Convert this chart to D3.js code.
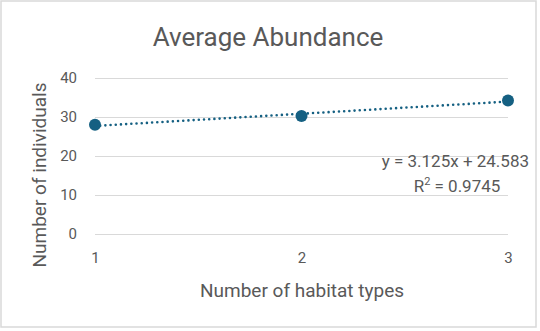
<!DOCTYPE html>
<html><head><meta charset="utf-8">
<script src="https://cdn.jsdelivr.net/npm/d3@7"></script>
<style>body{margin:0;background:#fff}svg{display:block}text{font-family:Roboto,"Noto Sans",sans-serif;fill:#595959}</style>
</head><body><svg id="c" width="540" height="331"></svg>
<script>
const xValues = [1, 2, 3];
const yValues = [28, 30.25, 34.25];
const xTicks = [1, 2, 3];
const yTicks = [0, 10, 20, 30, 40];
const title = "Average Abundance";
const xTitle = "Number of habitat types";
const yTitle = "Number of individuals";
const slope = 3.125, intercept = 24.583, r2 = 0.9745;

const svg = d3.select("#c");
svg.append("rect").attr("x",1).attr("y",1).attr("width",535).attr("height",326)
  .attr("fill","#fff").attr("stroke","#d9d9d9").attr("stroke-width",1.5);

const x = d3.scaleLinear().domain([1,3]).range([95,508]);
const y = d3.scaleLinear().domain([0,40]).range([234,78]);

const yAxis = svg.append("g").attr("transform","translate(95,0)")
  .call(d3.axisLeft(y).tickValues(yTicks).tickFormat(d3.format("d")).tickSize(-413).tickPadding(18));
yAxis.select(".domain").remove();
yAxis.selectAll("line").attr("stroke","#d9d9d9").attr("stroke-width",1);
yAxis.selectAll("text").style("font-size","15px").attr("fill","#595959");

const xAxis = svg.append("g").attr("transform","translate(0,234)")
  .call(d3.axisBottom(x).tickValues(xTicks).tickFormat(d3.format("d")).tickSize(0).tickPadding(18));
xAxis.select(".domain").remove();
xAxis.selectAll("text").style("font-size","15px").attr("fill","#595959");

svg.append("line")
  .attr("x1",x(1)).attr("y1",y(slope*1+intercept))
  .attr("x2",x(3)).attr("y2",y(slope*3+intercept))
  .attr("stroke","#156082").attr("stroke-width",2.6)
  .attr("stroke-dasharray","0 5.2").attr("stroke-linecap","round");

svg.selectAll("circle.pt").data(xValues).enter().append("circle")
  .attr("cx",(d)=>x(d)).attr("cy",(d,i)=>y(yValues[i])).attr("r",6)
  .attr("fill","#156082");

svg.append("text").attr("x",268).attr("y",46).attr("text-anchor","middle")
  .style("font-size","26px").text(title);
svg.append("text").attr("x",302).attr("y",297).attr("text-anchor","middle")
  .style("font-size","19px").text(xTitle);
svg.append("text").attr("transform","translate(46,175) rotate(-90)").attr("text-anchor","middle")
  .style("font-size","19px").text(yTitle);

svg.append("text").attr("x",529).attr("y",167).attr("text-anchor","end")
  .style("font-size","17px").text(`y = ${slope}x + ${intercept}`);
const r = svg.append("text").attr("x",457).attr("y",192).attr("text-anchor","middle").style("font-size","17px");
r.append("tspan").text("R");
r.append("tspan").attr("dy",-7).style("font-size","11px").text("2");
r.append("tspan").attr("dy",7).text(` = ${r2}`);
</script></body></html>
